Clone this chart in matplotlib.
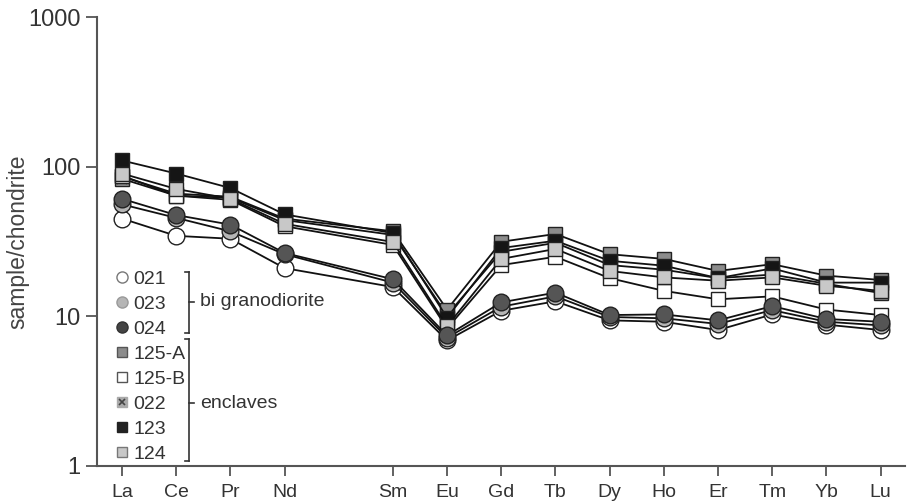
import matplotlib
matplotlib.use('agg')
import matplotlib.pyplot as plt
from matplotlib.lines import Line2D
import numpy as np

# ---------------- data ----------------
elements = ['La', 'Ce', 'Pr', 'Nd', 'Sm', 'Eu', 'Gd', 'Tb', 'Dy', 'Ho', 'Er', 'Tm', 'Yb', 'Lu']
xpos = [0, 1, 2, 3, 5, 6, 7, 8, 9, 10, 11, 12, 13, 14]   # Pm slot left empty

s022  = [83, 64, 62, 44, 35, 10.2, 27.0, 31.0, 22.0, 20.5, 18.0, 19.0, 16.5, 14.3]
s125A = [86, 66, 63, 45, 37, 11.1, 31.5, 35.5, 26.0, 24.2, 20.1, 22.3, 18.7, 17.5]
s125B = [87, 64, 60, 40, 30, 8.3, 22.0, 25.0, 18.0, 14.8, 13.0, 13.6, 11.1, 10.2]
s123  = [110, 90, 72, 48, 36, 9.8, 28.6, 32.0, 23.5, 21.8, 18.0, 20.9, 16.8, 16.8]
s124  = [90, 71, 61, 41.5, 31.4, 8.6, 24.2, 28.2, 20.1, 18.2, 17.3, 18.2, 16.0, 14.8]
s021  = [45, 34.5, 33, 21, 15.7, 6.9, 10.9, 12.6, 9.4, 9.2, 8.1, 10.3, 8.8, 8.1]
s023  = [56, 45.5, 37, 26, 16.8, 7.2, 11.6, 13.6, 9.9, 9.7, 8.9, 11.0, 9.2, 8.7]
s024  = [61, 47.5, 41, 26.5, 17.7, 7.45, 12.4, 14.4, 10.2, 10.3, 9.4, 11.7, 9.6, 9.2]

legend_labels = ['021', '023', '024', '125-A', '125-B', '022', '123', '124']

# ---------------- plotting ----------------
TXT = '#333333'
plt.rcParams['font.family'] = ['Liberation Sans', 'DejaVu Sans']
plt.rcParams['text.color'] = TXT

fig = plt.figure(figsize=(9.16, 5.04), dpi=100)
ax = fig.add_axes([97/916, 1-466/504, (905-97)/916, (466-17)/504])

sq = dict(marker='s', ms=10.5, mec='#222222', mew=1.0)
ci = dict(marker='o', ms=12, mec='#222222', mew=1.0)
ln = dict(color='#111111', lw=1.3)

ax.plot(xpos, s022, mfc='#9a9a9a', **sq, **ln)
ax.plot(xpos, s022, ls='none', marker='x', ms=7, mec='#444444', mew=1.2)
ax.plot(xpos, s125A, mfc='#8c8c8c', **sq, **ln)
ax.plot(xpos, s125B, mfc='white', **sq, **ln)
ax.plot(xpos, s123, mfc='#151515', **sq, **ln)
ax.plot(xpos, s124, mfc='#c8c8c8', **sq, **ln)
ax.plot(xpos, s021, mfc='white', **ci, **ln)
ax.plot(xpos, s023, mfc='#b5b5b5', **ci, **ln)
ax.plot(xpos, s024, mfc='#555555', **ci, **ln)

ax.set_yscale('log')
ax.set_ylim(1, 1000)
ax.set_xlim(-0.46, 14.45)
ax.set_yticks([1, 10, 100, 1000])
ax.set_yticklabels(['1', '10', '100', '1000'])
ax.yaxis.set_minor_locator(matplotlib.ticker.NullLocator())
ax.set_xticks(xpos)
ax.set_xticklabels(elements, family=['Liberation Sans Narrow', 'Liberation Sans'], fontsize=14)

for s in ['top', 'right']:
    ax.spines[s].set_visible(False)
for s in ['left', 'bottom']:
    ax.spines[s].set_color('#555555')
    ax.spines[s].set_linewidth(1.5)
ax.tick_params(axis='y', length=8, width=1.3, color='#555555', labelsize=17, labelcolor=TXT, pad=4)
ax.tick_params(axis='x', length=7, width=1.3, color='#555555', labelcolor=TXT, pad=6)
ax.set_ylabel('sample/chondrite', fontsize=16.5, color='#444444', va='center')
ax.yaxis.set_label_coords(-79/808, 0.5)

# legend
handles = [
    Line2D([], [], ls='none', marker='o', ms=8, mfc='white', mec='#777777', mew=1.0),
    Line2D([], [], ls='none', marker='o', ms=8, mfc='#b5b5b5', mec='#999999', mew=1.0),
    Line2D([], [], ls='none', marker='o', ms=8, mfc='#444444', mec='#333333', mew=1.0),
    Line2D([], [], ls='none', marker='s', ms=7, mfc='#8c8c8c', mec='#555555', mew=1.0),
    Line2D([], [], ls='none', marker='s', ms=7, mfc='white', mec='#555555', mew=1.0),
    (Line2D([], [], ls='none', marker='s', ms=7, mfc='#aaaaaa', mec='#aaaaaa', mew=1.0),
     Line2D([], [], ls='none', marker='x', ms=5, mec='#444444', mew=1.2)),
    Line2D([], [], ls='none', marker='s', ms=7, mfc='#222222', mec='#222222', mew=1.0),
    Line2D([], [], ls='none', marker='s', ms=7, mfc='#c8c8c8', mec='#777777', mew=1.0),
]
leg = ax.legend(handles, legend_labels, loc='upper left',
                bbox_to_anchor=(116/916, 1-270/504), bbox_transform=fig.transFigure,
                frameon=False, fontsize=14, handlelength=0.6, handletextpad=0.3,
                labelspacing=0.38, borderpad=0, borderaxespad=0)

# brackets
def bracket(y0, y1, ym, label):
    x = 189
    kw = dict(color='#333333', lw=1.2, transform=None)
    fig.add_artist(Line2D([x, x], [504-y0, 504-y1], **kw))
    fig.add_artist(Line2D([x-4, x], [504-y0, 504-y0], **kw))
    fig.add_artist(Line2D([x-4, x], [504-y1, 504-y1], **kw))
    fig.add_artist(Line2D([x, x+5], [504-ym, 504-ym], **kw))
    fig.text(200/916, 1-ym/504, label, fontsize=14, va='center', ha='left')

bracket(272, 333, 302, 'bi granodiorite')
bracket(339, 461, 403, 'enclaves')

plt.savefig('out.png', dpi=100)
